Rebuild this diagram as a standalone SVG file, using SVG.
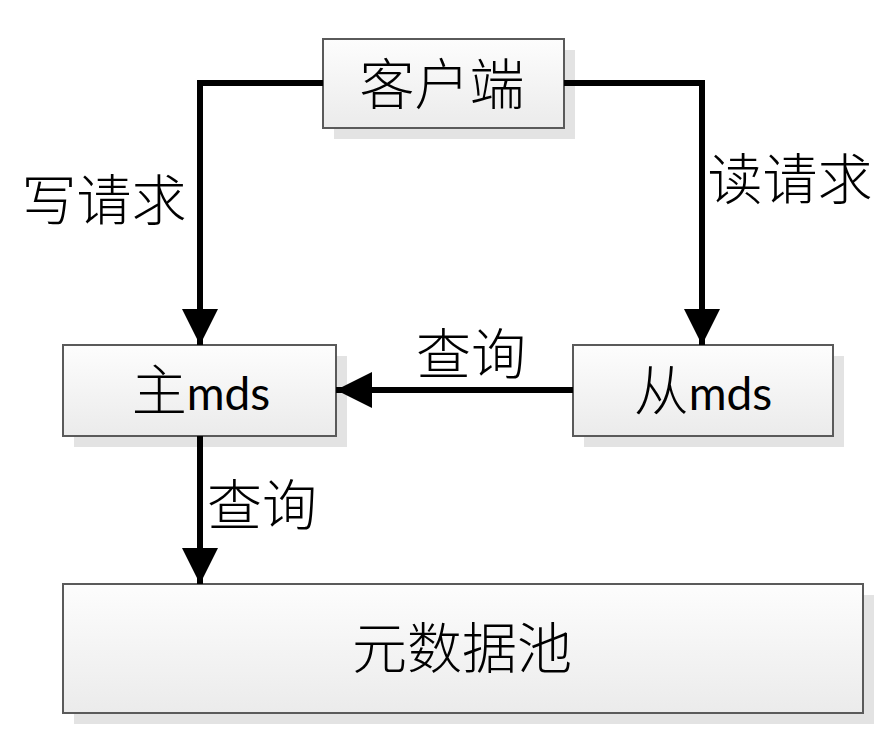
<svg xmlns="http://www.w3.org/2000/svg" width="895" height="735" viewBox="0 0 895 735">
<defs>
<linearGradient id="g" x1="0" y1="0" x2="0" y2="1">
<stop offset="0" stop-color="#fdfdfd"/>
<stop offset="1" stop-color="#ebebeb"/>
</linearGradient>
<marker id="arr" viewBox="0 0 36 36" refX="36" refY="18" markerWidth="36" markerHeight="36" markerUnits="userSpaceOnUse" orient="auto">
<path d="M0,0 L36,18 L0,36 Z" fill="#000"/>
</marker>
</defs>
<style>
.box{fill:url(#g);stroke:#5a5a5a;stroke-width:2}
.sh{fill:#e3e3e3}
.t{font-family:"Noto Sans CJK SC","Noto Sans",sans-serif;font-size:55px;font-weight:300;fill:#000;text-anchor:middle}
.lat{font-family:"Lato","Noto Sans",sans-serif;font-size:46px;font-weight:400}
.c{fill:none;stroke:#000;stroke-width:6}
</style>
<g id="client">
<rect class="sh" x="334" y="50" width="241" height="89"/>
<rect class="box" x="323" y="39" width="241" height="89"/>
<text class="t" x="442" y="104">客户端</text>
</g>
<g id="master">
<rect class="sh" x="74" y="356" width="273" height="91"/>
<rect class="box" x="63" y="345" width="273" height="91"/>
<text class="t" x="201" y="410">主<tspan class="lat">mds</tspan></text>
</g>
<g id="slave">
<rect class="sh" x="584" y="356" width="260" height="91"/>
<rect class="box" x="573" y="345" width="260" height="91"/>
<text class="t" x="703" y="410">从<tspan class="lat">mds</tspan></text>
</g>
<g id="pool">
<rect class="sh" x="74" y="595" width="800" height="129"/>
<rect class="box" x="63" y="584" width="800" height="129"/>
<text class="t" x="462" y="668">元数据池</text>
</g>
<g id="connectors">
<polyline class="c" points="323,83 200,83 200,345" marker-end="url(#arr)"/>
<polyline class="c" points="564,83 702,83 702,345" marker-end="url(#arr)"/>
<line class="c" x1="573" y1="390" x2="336" y2="390" marker-end="url(#arr)"/>
<line class="c" x1="200" y1="436" x2="200" y2="584" marker-end="url(#arr)"/>
</g>
<g id="labels">
<text class="t" x="104" y="220">写请求</text>
<text class="t" x="790" y="199">读请求</text>
<text class="t" x="471" y="374">查询</text>
<text class="t" x="262" y="525">查询</text>
</g>
</svg>
